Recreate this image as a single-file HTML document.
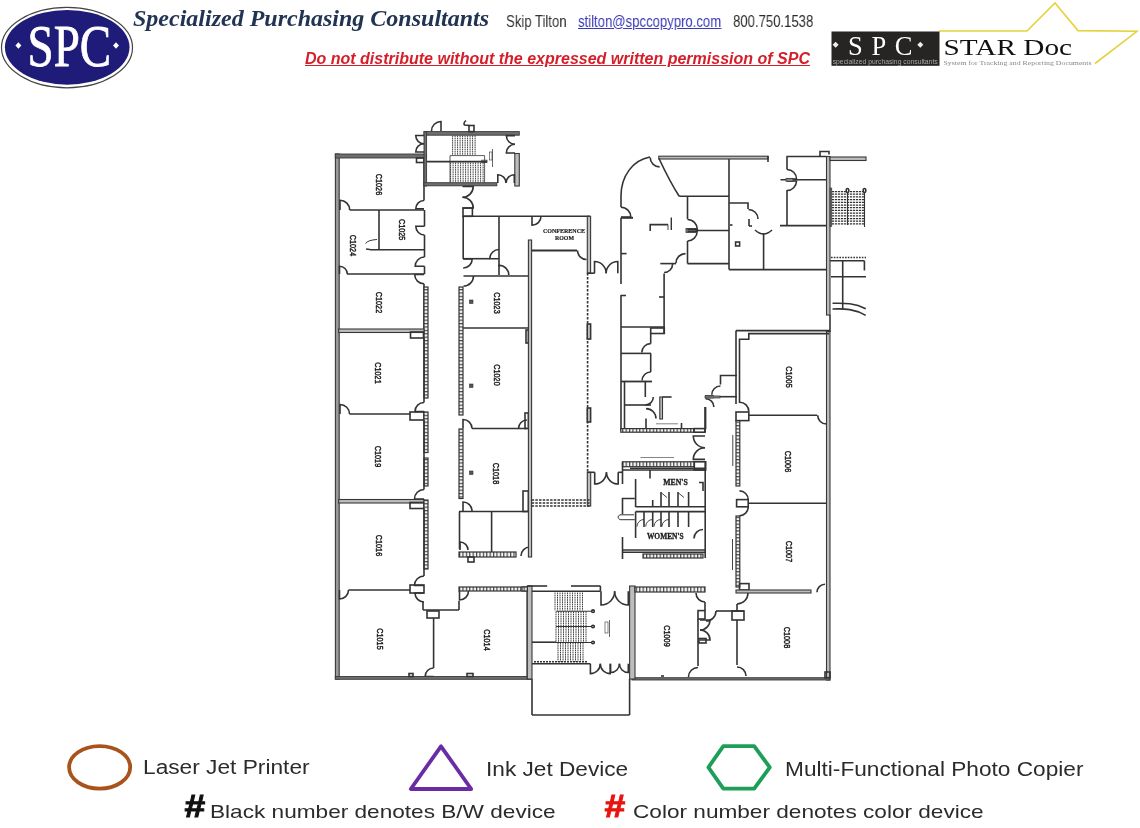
<!DOCTYPE html>
<html><head><meta charset="utf-8">
<style>
html,body{margin:0;padding:0;background:#fff;}
body{width:1140px;height:828px;position:relative;overflow:hidden;font-family:"Liberation Sans",sans-serif;}
.a{position:absolute;white-space:nowrap;line-height:1;will-change:transform;}
#title{left:133px;top:6px;font-family:"Liberation Serif",serif;font-weight:bold;font-style:italic;font-size:24px;color:#223453;}
#skip{left:506px;top:13.8px;font-size:16px;color:#333;transform:scaleX(0.82);transform-origin:0 0;}
#mail{left:578px;top:13.8px;font-size:16px;color:#3a3ab8;text-decoration:underline;transform:scaleX(0.82);transform-origin:0 0;}
#tel{left:733px;top:13.8px;font-size:16px;color:#2a2a2a;transform:scaleX(0.82);transform-origin:0 0;}
#warn{left:305px;top:51px;font-size:16px;font-weight:bold;font-style:italic;color:#d41f2a;text-decoration:underline;}
.lg{font-size:19.5px;color:#2b2b2b;transform:scaleX(1.14);transform-origin:0 0;}
</style></head><body>
<svg class="a" style="left:0;top:0" width="1140" height="828" viewBox="0 0 1140 828">
 <defs>
  <pattern id="hv" width="8" height="3.4" patternUnits="userSpaceOnUse"><rect width="8" height="3.4" fill="#f4f4f4"/><line x1="0" y1="0.6" x2="8" y2="0.6" stroke="#3a3a3a" stroke-width="1.1"/></pattern>
  <pattern id="hh" width="3.4" height="8" patternUnits="userSpaceOnUse"><rect width="3.4" height="8" fill="#f4f4f4"/><line x1="0.6" y1="0" x2="0.6" y2="8" stroke="#3a3a3a" stroke-width="1.1"/></pattern>
 </defs>
 <!-- SPC logo -->
 <ellipse cx="67" cy="47.6" rx="65.5" ry="40.2" fill="#fff" stroke="#444" stroke-width="1.2"/>
 <ellipse cx="67.2" cy="47.3" rx="62.3" ry="37.4" fill="#1f1b79"/>
 <text x="69.3" y="66" text-anchor="middle" font-family="Liberation Serif" font-size="60" fill="#fff" stroke="#fff" stroke-width="0.8" textLength="83.5" lengthAdjust="spacingAndGlyphs">SPC</text>
 <path d="M18.4,42.3 L21.4,45.5 L18.4,48.7 L15.4,45.5Z M116,42.3 L119,45.5 L116,48.7 L113,45.5Z" fill="#fff"/>
 <!-- STAR Doc logo -->
 <polyline points="939,31 1027,31 1055,3 1078,30.6 1137,31.3 1095,63.5" fill="none" stroke="#e6d23c" stroke-width="1.6"/>
 <rect x="831.5" y="31.5" width="108" height="34.3" fill="#272523"/>
 <text x="880.3" y="54.7" text-anchor="middle" font-family="Liberation Serif" font-size="26.5" fill="#fff" textLength="64.5" lengthAdjust="spacing">SPC</text>
 <path d="M835.6,41.8 L838.6,44.8 L835.6,47.8 L832.6,44.8Z M920.3,41.8 L923.3,44.8 L920.3,47.8 L917.3,44.8Z" fill="#eee"/>
 <text x="885.2" y="63.8" text-anchor="middle" font-family="Liberation Sans" font-size="6.6" fill="#a8a8a8" textLength="105" lengthAdjust="spacingAndGlyphs">specialized purchasing consultants</text>
 <text x="943.5" y="55.3" font-family="Liberation Serif" font-size="22.5" fill="#111" textLength="128.5" lengthAdjust="spacingAndGlyphs">STAR Doc</text>
 <text x="943.5" y="65" font-family="Liberation Serif" font-size="6" fill="#888" textLength="148" lengthAdjust="spacingAndGlyphs">System for Tracking and Reporting Documents</text>
 <!-- legend shapes -->
 <ellipse cx="99.65" cy="767.35" rx="30.55" ry="21.3" fill="none" stroke="#a8531c" stroke-width="3.8"/>
 <polygon points="441,746.3 410.8,789 471.2,789" fill="none" stroke="#6a2ca4" stroke-width="3.8" stroke-linejoin="round"/>
 <polygon points="708.4,767.35 723.3,746.1 754.2,746.1 769.8,767.35 754.2,788.6 723.3,788.6" fill="none" stroke="#1d9f57" stroke-width="3.8" stroke-linejoin="round"/>
 <!-- floor plan -->
 <g fill="none" stroke="#333" stroke-width="1.6" font-family="Liberation Sans">
<rect x="335.4" y="154" width="3.8" height="525" fill="#9a9a9a" stroke="#383838" stroke-width="1.1"/>
<rect x="335.3" y="154" width="91.2" height="4" fill="#6e6e6e" stroke="#3a3a3a" stroke-width="0.9"/>
<rect x="416.5" y="158" width="7.5" height="4.5"/>
<line x1="424" y1="157" x2="424" y2="200.5"/>
<path d="M424,208.7 L415.8,208.7 A8.2,8.2 0 0 1 424,200.5"/>
<rect x="424" y="131.6" width="95.3" height="3.6" fill="#6e6e6e" stroke="#3a3a3a" stroke-width="0.9"/>
<rect x="424" y="131.6" width="2.6" height="54.4" fill="#6e6e6e" stroke="#3a3a3a" stroke-width="0.9"/>
<rect x="424" y="182.7" width="72.8" height="3.1" fill="#6e6e6e" stroke="#3a3a3a" stroke-width="0.9"/>
<rect x="514.8" y="153.5" width="4.5" height="32.5" fill="#bdbdbd" stroke="#383838" stroke-width="1.1"/>
<line x1="426.6" y1="161.6" x2="487" y2="161.6"/>
<rect x="481.7" y="160.2" width="5.3" height="2.4" stroke-width="0.8"/>
<line x1="452.6" y1="135.5" x2="452.6" y2="155.5" stroke-width="0.95" stroke="#3a3a3a" stroke-dasharray="1.6,0.6"/>
<line x1="455.1" y1="135.5" x2="455.1" y2="155.5" stroke-width="0.95" stroke="#3a3a3a" stroke-dasharray="1.6,0.6"/>
<line x1="457.6" y1="135.5" x2="457.6" y2="155.5" stroke-width="0.95" stroke="#3a3a3a" stroke-dasharray="1.6,0.6"/>
<line x1="460.1" y1="135.5" x2="460.1" y2="155.5" stroke-width="0.95" stroke="#3a3a3a" stroke-dasharray="1.6,0.6"/>
<line x1="462.6" y1="135.5" x2="462.6" y2="155.5" stroke-width="0.95" stroke="#3a3a3a" stroke-dasharray="1.6,0.6"/>
<line x1="465.1" y1="135.5" x2="465.1" y2="155.5" stroke-width="0.95" stroke="#3a3a3a" stroke-dasharray="1.6,0.6"/>
<line x1="467.6" y1="135.5" x2="467.6" y2="155.5" stroke-width="0.95" stroke="#3a3a3a" stroke-dasharray="1.6,0.6"/>
<line x1="470.1" y1="135.5" x2="470.1" y2="155.5" stroke-width="0.95" stroke="#3a3a3a" stroke-dasharray="1.6,0.6"/>
<line x1="472.6" y1="135.5" x2="472.6" y2="155.5" stroke-width="0.95" stroke="#3a3a3a" stroke-dasharray="1.6,0.6"/>
<line x1="475.1" y1="135.5" x2="475.1" y2="155.5" stroke-width="0.95" stroke="#3a3a3a" stroke-dasharray="1.6,0.6"/>
<line x1="450.6" y1="162.5" x2="450.6" y2="182.5" stroke-width="0.95" stroke="#3a3a3a" stroke-dasharray="1.6,0.6"/>
<line x1="453.1" y1="162.5" x2="453.1" y2="182.5" stroke-width="0.95" stroke="#3a3a3a" stroke-dasharray="1.6,0.6"/>
<line x1="455.6" y1="162.5" x2="455.6" y2="182.5" stroke-width="0.95" stroke="#3a3a3a" stroke-dasharray="1.6,0.6"/>
<line x1="458.1" y1="162.5" x2="458.1" y2="182.5" stroke-width="0.95" stroke="#3a3a3a" stroke-dasharray="1.6,0.6"/>
<line x1="460.6" y1="162.5" x2="460.6" y2="182.5" stroke-width="0.95" stroke="#3a3a3a" stroke-dasharray="1.6,0.6"/>
<line x1="463.1" y1="162.5" x2="463.1" y2="182.5" stroke-width="0.95" stroke="#3a3a3a" stroke-dasharray="1.6,0.6"/>
<line x1="465.6" y1="162.5" x2="465.6" y2="182.5" stroke-width="0.95" stroke="#3a3a3a" stroke-dasharray="1.6,0.6"/>
<line x1="468.1" y1="162.5" x2="468.1" y2="182.5" stroke-width="0.95" stroke="#3a3a3a" stroke-dasharray="1.6,0.6"/>
<line x1="470.6" y1="162.5" x2="470.6" y2="182.5" stroke-width="0.95" stroke="#3a3a3a" stroke-dasharray="1.6,0.6"/>
<line x1="473.1" y1="162.5" x2="473.1" y2="182.5" stroke-width="0.95" stroke="#3a3a3a" stroke-dasharray="1.6,0.6"/>
<line x1="475.6" y1="162.5" x2="475.6" y2="182.5" stroke-width="0.95" stroke="#3a3a3a" stroke-dasharray="1.6,0.6"/>
<line x1="478.1" y1="162.5" x2="478.1" y2="182.5" stroke-width="0.95" stroke="#3a3a3a" stroke-dasharray="1.6,0.6"/>
<line x1="480.6" y1="162.5" x2="480.6" y2="182.5" stroke-width="0.95" stroke="#3a3a3a" stroke-dasharray="1.6,0.6"/>
<line x1="483.1" y1="162.5" x2="483.1" y2="182.5" stroke-width="0.95" stroke="#3a3a3a" stroke-dasharray="1.6,0.6"/>
<path d="M450,182.5 L450,155.6 L484.6,155.6 L484.6,182.5" stroke-width="0.8"/>
<path d="M424,135.5 L415.75,135.5 A8.2,8.2 0 0 0 424,143.75"/>
<path d="M424,152 L415.75,152 A8.2,8.2 0 0 1 424,143.75"/>
<path d="M441,131 L441,121.5 A9.5,9.5 0 0 0 431.5,131"/>
<rect x="469" y="125.5" width="5" height="6.1"/>
<path d="M466,120.5 Q463,123 464.5,125 L469,125.5"/>
<path d="M515,135.6 L506.29999999999995,135.6 A8.7,8.7 0 0 0 515,144.3"/>
<path d="M515,153 L506.3,153 A8.7,8.7 0 0 1 515,144.3"/>
<path d="M497.8,183 L497.8,174.75000000000006 A8.2,8.2 0 0 1 506.04999999999995,183"/>
<path d="M514.3,183 L514.3,174.75 A8.2,8.2 0 0 0 506.04999999999995,183"/>
<line x1="492.5" y1="149" x2="492.5" y2="167" stroke-width="0.9" stroke="#555"/>
<rect x="489.5" y="152" width="2.5" height="8" stroke-width="0.6"/>
<path d="M462.5,186.5 L473.25,186.5 A10.8,10.8 0 0 1 462.5,197.25"/>
<path d="M462.5,208 L473.25,208 A10.8,10.8 0 0 0 462.5,197.25"/>
<line x1="349.7" y1="210" x2="424" y2="210"/>
<path d="M340,210 L340,200.3 A9.7,9.7 0 0 1 349.7,210"/>
<line x1="379" y1="210" x2="379" y2="249.8"/>
<line x1="370" y1="249.8" x2="424" y2="249.8"/>
<path d="M424.5,226.3 L415.8,226.3 A8.7,8.7 0 0 0 424.5,235"/>
<line x1="424.5" y1="210" x2="424.5" y2="226.3"/>
<line x1="424.5" y1="235" x2="424.5" y2="257"/>
<line x1="424.5" y1="266.3" x2="424.5" y2="274.3"/>
<path d="M365.5,243.5 Q368,240 377,239.5" stroke-width="1"/>
<line x1="366" y1="249" x2="370" y2="249.5"/>
<path d="M424.5,266.3 L415.2,266.3 A9.3,9.3 0 0 1 424.5,257"/>
<line x1="347" y1="274" x2="424" y2="274"/>
<path d="M339.5,274 L339.5,266.2 A7.8,7.8 0 0 1 347.3,274"/>
<path d="M424,274.5 L414.7,274.5 A9.3,9.3 0 0 0 424,283.8"/>
<line x1="424" y1="283.8" x2="424" y2="329"/>
<rect x="424" y="287" width="4" height="111" fill="url(#hv)" stroke="#333" stroke-width="1.2"/>
<rect x="338.7" y="329" width="85.3" height="3.5" fill="#bdbdbd" stroke="#383838" stroke-width="1.1"/>
<rect x="410.5" y="332" width="13.0" height="6"/>
<line x1="424" y1="338" x2="424" y2="402.5"/>
<path d="M424,411.5 L415.0,411.5 A9.0,9.0 0 0 1 424,402.5"/>
<line x1="349.5" y1="414" x2="410.5" y2="414"/>
<path d="M340,414 L340,404.5 A9.5,9.5 0 0 1 349.5,414"/>
<rect x="410" y="412" width="14" height="8"/>
<rect x="424" y="412" width="4" height="40.5" fill="url(#hv)" stroke="#333" stroke-width="1.2"/>
<rect x="424" y="458" width="4" height="28" fill="url(#hv)" stroke="#333" stroke-width="1.2"/>
<line x1="424" y1="420" x2="424" y2="489.5"/>
<path d="M424,499 L414.5,499 A9.5,9.5 0 0 1 424,489.5"/>
<rect x="338.7" y="499.5" width="85.3" height="3.5" fill="#bdbdbd" stroke="#383838" stroke-width="1.1"/>
<rect x="410" y="502.5" width="14" height="6.0"/>
<rect x="424" y="500" width="4" height="69" fill="url(#hv)" stroke="#333" stroke-width="1.2"/>
<line x1="424" y1="508.5" x2="424" y2="576"/>
<path d="M424,585.5 L414.5,585.5 A9.5,9.5 0 0 1 424,576"/>
<rect x="410" y="585" width="14" height="8"/>
<path d="M424,593 L415,593 A9.0,9.0 0 0 0 424,602"/>
<line x1="348.5" y1="590" x2="410" y2="590"/>
<path d="M339.5,590 L339.5,599.0 A9.0,9.0 0 0 0 348.5,590"/>
<line x1="423" y1="602" x2="423" y2="610"/>
<line x1="423" y1="610" x2="459" y2="610"/>
<line x1="459" y1="601" x2="459" y2="610"/>
<rect x="427" y="611" width="12" height="7"/>
<line x1="433.6" y1="618" x2="433.6" y2="668"/>
<path d="M433.6,676.5 L425.1,676.5 A8.5,8.5 0 0 1 433.6,668"/>
<rect x="335.3" y="676.5" width="195.7" height="2.8" fill="#6e6e6e" stroke="#3a3a3a" stroke-width="0.9"/>
<rect x="409" y="673.5" width="4" height="3.0"/>
<rect x="467" y="673.5" width="6" height="3.0"/>
<rect x="459" y="587" width="69" height="4" fill="url(#hh)" stroke="#333" stroke-width="1.2"/>
<path d="M459.5,591 L459.5,600.0 A9.0,9.0 0 0 0 468.5,591"/>
<rect x="527" y="589" width="3.5" height="88" fill="#bdbdbd" stroke="#383838" stroke-width="1.1"/>
<text transform="translate(379.5,184.5) rotate(90)" text-anchor="middle" dy="3.35" font-size="9.3" textLength="21.3" lengthAdjust="spacingAndGlyphs" fill="#1a1a1a" stroke="#1a1a1a" stroke-width="0.45">C1026</text>
<text transform="translate(402.8,229.6) rotate(90)" text-anchor="middle" dy="3.35" font-size="9.3" textLength="21.3" lengthAdjust="spacingAndGlyphs" fill="#1a1a1a" stroke="#1a1a1a" stroke-width="0.45">C1025</text>
<text transform="translate(353.4,245.5) rotate(90)" text-anchor="middle" dy="3.35" font-size="9.3" textLength="21.3" lengthAdjust="spacingAndGlyphs" fill="#1a1a1a" stroke="#1a1a1a" stroke-width="0.45">C1024</text>
<text transform="translate(379.5,302.5) rotate(90)" text-anchor="middle" dy="3.35" font-size="9.3" textLength="21.3" lengthAdjust="spacingAndGlyphs" fill="#1a1a1a" stroke="#1a1a1a" stroke-width="0.45">C1022</text>
<text transform="translate(378.5,373) rotate(90)" text-anchor="middle" dy="3.35" font-size="9.3" textLength="21.3" lengthAdjust="spacingAndGlyphs" fill="#1a1a1a" stroke="#1a1a1a" stroke-width="0.45">C1021</text>
<text transform="translate(378.5,456.5) rotate(90)" text-anchor="middle" dy="3.35" font-size="9.3" textLength="21.3" lengthAdjust="spacingAndGlyphs" fill="#1a1a1a" stroke="#1a1a1a" stroke-width="0.45">C1019</text>
<text transform="translate(379.5,545.5) rotate(90)" text-anchor="middle" dy="3.35" font-size="9.3" textLength="21.3" lengthAdjust="spacingAndGlyphs" fill="#1a1a1a" stroke="#1a1a1a" stroke-width="0.45">C1016</text>
<text transform="translate(380.5,639) rotate(90)" text-anchor="middle" dy="3.35" font-size="9.3" textLength="21.3" lengthAdjust="spacingAndGlyphs" fill="#1a1a1a" stroke="#1a1a1a" stroke-width="0.45">C1015</text>
<text transform="translate(487.5,640) rotate(90)" text-anchor="middle" dy="3.35" font-size="9.3" textLength="21.3" lengthAdjust="spacingAndGlyphs" fill="#1a1a1a" stroke="#1a1a1a" stroke-width="0.45">C1014</text>
<line x1="463.2" y1="216" x2="463.2" y2="259"/>
<rect x="463" y="208" width="9.4" height="8.3"/>
<line x1="463" y1="216.3" x2="532" y2="216.3"/>
<line x1="499" y1="216.3" x2="499" y2="266.8"/>
<line x1="463" y1="258.7" x2="489.5" y2="258.7"/>
<path d="M499,258.7 L489.8,258.7 A9.2,9.2 0 0 1 499,249.5"/>
<path d="M499,275 L499,265.2 A9.8,9.8 0 0 1 508.8,275"/>
<path d="M463.2,259 L472.2,259 A9.0,9.0 0 0 1 463.2,268"/>
<path d="M463.5,276 L473.5,276 A10.0,10.0 0 0 1 463.5,286"/>
<rect x="459" y="287" width="4" height="128" fill="url(#hv)" stroke="#333" stroke-width="1.2"/>
<line x1="474" y1="276" x2="528.4" y2="276"/>
<line x1="463" y1="328" x2="528.4" y2="328"/>
<rect x="526" y="330" width="2.4" height="13"/>
<line x1="472" y1="428.5" x2="518" y2="428.5"/>
<path d="M463,428.5 L463,419.5 A9.0,9.0 0 0 1 472,428.5"/>
<path d="M527,428.5 L518.5,428.5 A8.5,8.5 0 0 1 527,420"/>
<rect x="525" y="413" width="3.4" height="15.5"/>
<rect x="459" y="429" width="4" height="69.5" fill="url(#hv)" stroke="#333" stroke-width="1.2"/>
<path d="M463,511 L463,502 A9.0,9.0 0 0 1 472,511"/>
<rect x="523" y="491" width="5.4" height="20.5"/>
<line x1="459" y1="511.5" x2="528.4" y2="511.5"/>
<line x1="459.5" y1="511.5" x2="459.5" y2="549"/>
<path d="M460,550 L460,542 A8.0,8.0 0 0 1 468,550"/>
<line x1="491.6" y1="511.5" x2="491.6" y2="553"/>
<path d="M530,556 L530,547 A9.0,9.0 0 0 0 521,556"/>
<rect x="459" y="552" width="57" height="5" fill="url(#hh)" stroke="#333" stroke-width="1.2"/>
<rect x="468" y="557" width="6" height="5"/>
<text transform="translate(497.5,303) rotate(90)" text-anchor="middle" dy="3.35" font-size="9.3" textLength="21.3" lengthAdjust="spacingAndGlyphs" fill="#1a1a1a" stroke="#1a1a1a" stroke-width="0.45">C1023</text>
<text transform="translate(497.5,375) rotate(90)" text-anchor="middle" dy="3.35" font-size="9.3" textLength="21.3" lengthAdjust="spacingAndGlyphs" fill="#1a1a1a" stroke="#1a1a1a" stroke-width="0.45">C1020</text>
<text transform="translate(496,473.5) rotate(90)" text-anchor="middle" dy="3.35" font-size="9.3" textLength="21.3" lengthAdjust="spacingAndGlyphs" fill="#1a1a1a" stroke="#1a1a1a" stroke-width="0.45">C1018</text>
<rect x="469.5" y="300" width="3.5" height="3.5" fill="#555" stroke-width="0.6"/>
<rect x="469.5" y="384" width="3.5" height="3.5" fill="#555" stroke-width="0.6"/>
<rect x="469.5" y="471" width="3.5" height="3.5" fill="#555" stroke-width="0.6"/>
<line x1="532" y1="216.3" x2="590" y2="216.3"/>
<path d="M532,216.3 L532,225.3 A9.0,9.0 0 0 0 541,216.3"/>
<rect x="587.3" y="216.3" width="3.3" height="56.9" fill="#bdbdbd" stroke="#383838" stroke-width="1.1"/>
<line x1="587.6" y1="273" x2="587.6" y2="472.3" stroke-dasharray="2.6,1.4"/>
<rect x="587.3" y="324" width="3.3" height="15" fill="#ccc"/>
<rect x="587.3" y="408" width="3.3" height="14" fill="#ccc"/>
<rect x="587.3" y="472.3" width="3.4" height="33.7" fill="#bdbdbd" stroke="#383838" stroke-width="1.1"/>
<line x1="532" y1="250.5" x2="577" y2="250.5" stroke-width="1.9"/>
<path d="M577.5,250.5 A9.0,9.0 0 0 0 586.5,259.5"/>
<rect x="528.4" y="240" width="3.2" height="317" fill="#bdbdbd" stroke="#383838" stroke-width="1.1"/>
<line x1="531.6" y1="500" x2="590" y2="500" stroke-dasharray="2.5,1.2"/>
<line x1="531.6" y1="503" x2="590" y2="503" stroke-dasharray="2.5,1.2"/>
<line x1="531.6" y1="506" x2="590" y2="506" stroke-dasharray="2.5,1.2"/>
<text x="564" y="233.3" text-anchor="middle" font-family="Liberation Serif" font-size="6.4" font-weight="bold" textLength="42" lengthAdjust="spacingAndGlyphs" fill="#222" stroke="#222" stroke-width="0.2">CONFERENCE</text>
<text x="564.5" y="240.3" text-anchor="middle" font-family="Liberation Serif" font-size="6.4" font-weight="bold" textLength="19" lengthAdjust="spacingAndGlyphs" fill="#222" stroke="#222" stroke-width="0.2">ROOM</text>
<polyline points="587.3,273.2 594.5,273.2"/>
<path d="M594.5,273.2 L594.5,261.55 A11.6,11.6 0 0 1 606.15,273.2"/>
<path d="M617.8,273.2 L617.8,261.55 A11.6,11.6 0 0 0 606.15,273.2"/>
<polyline points="587.3,472.3 594.7,472.3"/>
<path d="M594.7,472.3 L594.7,484.05 A11.8,11.8 0 0 0 606.45,472.3"/>
<path d="M618.2,472.3 L618.2,484.05 A11.8,11.8 0 0 1 606.45,472.3"/>
<polyline points="618.2,472.3 622.5,472.3"/>
<line x1="621" y1="217.8" x2="621" y2="284"/>
<line x1="621" y1="295" x2="621" y2="431"/>
<line x1="621" y1="295.5" x2="626" y2="295.5"/>
<line x1="621" y1="253.6" x2="626.6" y2="253.6"/>
<line x1="621" y1="217.8" x2="633" y2="217.8" stroke-width="2"/>
<path d="M621,217 L630.8,217 A9.8,9.8 0 0 0 621,207.2"/>
<path d="M621,207.2 L621,196 C621,176 633,160 650,157"/>
<path d="M659.6,166.89999999999998 A9.4,9.4 0 0 1 650.2,157.5"/>
<rect x="658.8" y="156.2" width="109.2" height="2.8" fill="#bdbdbd" stroke="#383838" stroke-width="1.1"/>
<line x1="768" y1="156" x2="768" y2="162"/>
<path d="M659,158.5 Q670,182 679.2,196.3"/>
<line x1="679.2" y1="196.3" x2="729" y2="196.3"/>
<line x1="687.5" y1="196.3" x2="687.5" y2="219"/>
<line x1="687.5" y1="241" x2="687.5" y2="263.6"/>
<line x1="687.5" y1="230.5" x2="729" y2="230.5"/>
<rect x="686" y="228.5" width="10" height="4.0" fill="#888" stroke-width="0.8"/>
<path d="M687.5,229.3 L697.3,229.3 A9.8,9.8 0 0 0 687.5,219.5"/>
<path d="M687.5,231.3 L697.2,231.3 A9.7,9.7 0 0 1 687.5,241"/>
<line x1="660.3" y1="263.6" x2="676" y2="263.6" stroke-width="1.6"/>
<line x1="687.5" y1="263.6" x2="729" y2="263.6"/>
<path d="M675.9,263.2 A9.6,9.6 0 0 1 685.5,253.6"/>
<path d="M664.1,272.5 A8.5,8.5 0 0 0 672.6,264"/>
<line x1="664.1" y1="273.5" x2="664.1" y2="333.5"/>
<polyline points="650.2,231 650.2,224.6 668,224.6"/>
<line x1="671.3" y1="217.5" x2="671.3" y2="230" stroke-width="1.4"/>
<line x1="668" y1="224.6" x2="668" y2="230" stroke-width="0.9"/>
<line x1="729" y1="159" x2="729" y2="269.6"/>
<polyline points="729,203 748,203 748,209"/>
<path d="M758.0,219 A9.5,9.5 0 0 0 748.5,209.5"/>
<line x1="749" y1="219" x2="749" y2="226"/>
<line x1="749" y1="226" x2="752" y2="226"/>
<line x1="730" y1="225" x2="732.5" y2="225"/>
<path d="M755,230 Q763.6,238 772,230"/>
<line x1="763.6" y1="233" x2="763.6" y2="269.6"/>
<rect x="735.6" y="242" width="4.0" height="4"/>
<line x1="729" y1="269.6" x2="826.5" y2="269.6"/>
<line x1="786.5" y1="156.5" x2="826.5" y2="156.5"/>
<line x1="787" y1="156.5" x2="787" y2="169.5"/>
<line x1="787" y1="190" x2="787" y2="226"/>
<path d="M787,179 L796.5,179 A9.5,9.5 0 0 0 787,169.5"/>
<path d="M787,181 L796.5,181 A9.5,9.5 0 0 1 787,190.5"/>
<line x1="780.5" y1="179.8" x2="826.5" y2="179.8"/>
<rect x="786" y="178.3" width="7" height="3.0" fill="#888" stroke-width="0.7"/>
<line x1="780" y1="225.6" x2="826.5" y2="225.6"/>
<polyline points="820,156.5 820,151.5 829,151.5 829,154.5"/>
<rect x="826.5" y="156.5" width="3.5" height="158.5" fill="#bdbdbd" stroke="#383838" stroke-width="1.1"/>
<line x1="830" y1="315" x2="830" y2="332"/>
<rect x="826.5" y="331.5" width="3.5" height="348.5" fill="#bdbdbd" stroke="#383838" stroke-width="1.1"/>
<rect x="830" y="157" width="36" height="3.5" fill="#bdbdbd" stroke="#383838" stroke-width="1.1"/>
<line x1="832" y1="191.5" x2="864" y2="191.5" stroke-width="1.25" stroke="#333" stroke-dasharray="2.2,0.8"/>
<line x1="832" y1="194.2" x2="864" y2="194.2" stroke-width="1.25" stroke="#333" stroke-dasharray="2.2,0.8"/>
<line x1="832" y1="196.9" x2="864" y2="196.9" stroke-width="1.25" stroke="#333" stroke-dasharray="2.2,0.8"/>
<line x1="832" y1="199.6" x2="864" y2="199.6" stroke-width="1.25" stroke="#333" stroke-dasharray="2.2,0.8"/>
<line x1="832" y1="202.3" x2="864" y2="202.3" stroke-width="1.25" stroke="#333" stroke-dasharray="2.2,0.8"/>
<line x1="832" y1="205.0" x2="864" y2="205.0" stroke-width="1.25" stroke="#333" stroke-dasharray="2.2,0.8"/>
<line x1="832" y1="207.7" x2="864" y2="207.7" stroke-width="1.25" stroke="#333" stroke-dasharray="2.2,0.8"/>
<line x1="832" y1="210.4" x2="864" y2="210.4" stroke-width="1.25" stroke="#333" stroke-dasharray="2.2,0.8"/>
<line x1="832" y1="213.1" x2="864" y2="213.1" stroke-width="1.25" stroke="#333" stroke-dasharray="2.2,0.8"/>
<line x1="832" y1="215.8" x2="864" y2="215.8" stroke-width="1.25" stroke="#333" stroke-dasharray="2.2,0.8"/>
<line x1="832" y1="218.5" x2="864" y2="218.5" stroke-width="1.25" stroke="#333" stroke-dasharray="2.2,0.8"/>
<line x1="832" y1="221.2" x2="864" y2="221.2" stroke-width="1.25" stroke="#333" stroke-dasharray="2.2,0.8"/>
<line x1="832" y1="223.9" x2="864" y2="223.9" stroke-width="1.25" stroke="#333" stroke-dasharray="2.2,0.8"/>
<line x1="847.5" y1="190.5" x2="847.5" y2="225" stroke-width="1.1"/>
<line x1="864.5" y1="190.5" x2="864.5" y2="227" stroke-width="1.1"/>
<ellipse cx="847.5" cy="190.5" rx="1.3" ry="2" fill="#fff"/><ellipse cx="864.5" cy="190.5" rx="1.3" ry="2" fill="#fff"/>
<rect x="830" y="188" width="1.8" height="38.5" fill="#666" stroke-width="0.6"/>
<line x1="831" y1="257.5" x2="866" y2="257.5" stroke-dasharray="1.6,1.2"/>
<line x1="830" y1="260.7" x2="864.4" y2="260.7"/>
<line x1="864.4" y1="260.7" x2="864.4" y2="270.5"/>
<line x1="842.7" y1="260.7" x2="842.7" y2="309"/>
<line x1="831" y1="276.8" x2="866" y2="276.8"/>
<path d="M832.5,303.3 C845,303 855,303 865.7,308.8"/>
<path d="M832.5,309 C845,308.5 855,309 865.7,315.4"/>
<line x1="736" y1="330.6" x2="830" y2="330.6"/>
<polyline points="739.5,403 739.5,339.3 748.8,339.3 748.8,333.6 829,333.6"/>
<line x1="736" y1="330.6" x2="736" y2="404"/>
<polyline points="737,375.5 720.5,375.5 720.5,384.6"/>
<path d="M711.8,394.7 A8.7,8.7 0 0 1 720.5,386"/>
<line x1="705.6" y1="396.7" x2="737" y2="396.7"/>
<rect x="705.6" y="395.5" width="8.0" height="2.5" fill="#888" stroke-width="0.7"/>
<path d="M713.9000000000001,407 A8.3,8.3 0 0 0 705.6,398.7"/>
<line x1="705.6" y1="407" x2="705.6" y2="429"/>
<path d="M739.5,402.20000000000005 A9.3,9.3 0 0 1 748.8,411.5"/>
<rect x="736" y="412" width="12.8" height="8.6"/>
<rect x="736" y="420.6" width="3.8" height="65.4" fill="url(#hv)" stroke="#333" stroke-width="1.2"/>
<line x1="732.8" y1="435" x2="732.8" y2="466" stroke-width="0.9"/>
<line x1="749" y1="415.3" x2="817" y2="415.3"/>
<path d="M817.7,415.3 A8.7,8.7 0 0 0 826.4,424"/>
<path d="M739.5,490.9 A8.7,8.7 0 0 1 748.2,499.6"/>
<rect x="736.6" y="499.6" width="11.6" height="7.2"/>
<line x1="748.2" y1="503.2" x2="826.4" y2="503.2"/>
<path d="M739.5,515.7 A8.7,8.7 0 0 0 748.2,507"/>
<rect x="736" y="516" width="3.8" height="71" fill="url(#hv)" stroke="#333" stroke-width="1.2"/>
<line x1="732.5" y1="539" x2="732.5" y2="570" stroke-width="0.9"/>
<rect x="739.5" y="583.6" width="9.5" height="6.4"/>
<rect x="736" y="590" width="75" height="3" fill="#bdbdbd" stroke="#383838" stroke-width="1.1"/>
<path d="M817.0,592.3 A8.0,8.0 0 0 1 825,584.3"/>
<text transform="translate(789.5,377) rotate(90)" text-anchor="middle" dy="3.35" font-size="9.3" textLength="21.3" lengthAdjust="spacingAndGlyphs" fill="#1a1a1a" stroke="#1a1a1a" stroke-width="0.45">C1005</text>
<text transform="translate(788.5,461.5) rotate(90)" text-anchor="middle" dy="3.35" font-size="9.3" textLength="21.3" lengthAdjust="spacingAndGlyphs" fill="#1a1a1a" stroke="#1a1a1a" stroke-width="0.45">C1006</text>
<text transform="translate(789.2,551.5) rotate(90)" text-anchor="middle" dy="3.35" font-size="9.3" textLength="21.3" lengthAdjust="spacingAndGlyphs" fill="#1a1a1a" stroke="#1a1a1a" stroke-width="0.45">C1007</text>
<text transform="translate(787.5,637.5) rotate(90)" text-anchor="middle" dy="3.35" font-size="9.3" textLength="21.3" lengthAdjust="spacingAndGlyphs" fill="#1a1a1a" stroke="#1a1a1a" stroke-width="0.45">C1008</text>
<path d="M696,593 A9.0,9.0 0 0 0 705,602"/>
<line x1="705" y1="602" x2="705" y2="610.6"/>
<rect x="698" y="610.6" width="7" height="8.4"/>
<line x1="716" y1="611" x2="744" y2="611"/>
<path d="M706,621 A10.0,10.0 0 0 0 716,611"/>
<rect x="732" y="611" width="12" height="9"/>
<path d="M748,593 A11.0,11.0 0 0 1 737,604"/>
<line x1="737" y1="604" x2="737" y2="611"/>
<line x1="737" y1="620" x2="737" y2="665"/>
<path d="M737,667 A9.0,9.0 0 0 1 746,676"/>
<line x1="698" y1="619" x2="698" y2="666"/>
<path d="M698,667.5 A9.5,9.5 0 0 0 688.5,677"/>
<path d="M700,620 L710.0,620 A10.0,10.0 0 0 1 700,630.0"/>
<path d="M700,640 L710.0,640 A10.0,10.0 0 0 0 700,630.0"/>
<rect x="699" y="638.5" width="7" height="4.5"/>
<rect x="632" y="677.7" width="198" height="2.3" fill="#6e6e6e" stroke="#3a3a3a" stroke-width="0.9"/>
<rect x="825" y="672" width="5" height="5.7"/>
<line x1="661" y1="676" x2="664" y2="676"/>
<line x1="659" y1="297" x2="664.3" y2="297"/>
<line x1="621" y1="327" x2="664.3" y2="327"/>
<rect x="650.7" y="328" width="13.6" height="5.5"/>
<line x1="650.7" y1="333.5" x2="650.7" y2="343.6"/>
<path d="M641.8000000000001,352.5 A8.9,8.9 0 0 1 650.7,343.6"/>
<line x1="621" y1="353.4" x2="651" y2="353.4"/>
<line x1="650.7" y1="353.4" x2="650.7" y2="372"/>
<path d="M642.1,380.6 A8.6,8.6 0 0 1 650.7,372"/>
<line x1="621" y1="381.5" x2="652" y2="381.5" stroke-width="1.8"/>
<line x1="624.5" y1="381.5" x2="624.5" y2="429"/>
<line x1="645.3" y1="381.5" x2="645.3" y2="397"/>
<path d="M653.3,397 A8.0,8.0 0 0 1 645.3,405"/>
<line x1="624.5" y1="405" x2="651" y2="405"/>
<path d="M646,408.6 A10.0,10.0 0 0 1 656,418.6"/>
<line x1="646" y1="418.6" x2="646" y2="429"/>
<rect x="659.8" y="397" width="2.7" height="22" fill="#bdbdbd" stroke="#383838" stroke-width="1.1"/>
<line x1="662.5" y1="397" x2="671.6" y2="397"/>
<line x1="656" y1="423.8" x2="678" y2="423.8" stroke-width="0.6"/>
<line x1="681.5" y1="423" x2="681.5" y2="429"/>
<rect x="705" y="396" width="15" height="2" fill="#888" stroke-width="0.7"/>
<rect x="620.8" y="428.6" width="73.2" height="3.6" fill="url(#hh)" stroke="#333" stroke-width="1.2"/>
<rect x="694" y="428.6" width="11" height="3.6"/>
<line x1="705" y1="407" x2="705" y2="432"/>
<path d="M705,436 L693.3,436 A11.7,11.7 0 0 0 705,447.7"/>
<path d="M705,459.4 L693.3,459.4 A11.7,11.7 0 0 1 705,447.7"/>
<rect x="622.5" y="461.8" width="71.8" height="4.9" fill="url(#hh)" stroke="#333" stroke-width="1.2"/>
<rect x="694.3" y="461.8" width="11.4" height="8.2"/>
<line x1="630" y1="468.3" x2="705.7" y2="468.3"/>
<line x1="622.5" y1="470" x2="705.7" y2="470"/>
<line x1="640.5" y1="457.5" x2="674" y2="457.5" stroke-width="0.6"/>
<line x1="622.5" y1="461.8" x2="622.5" y2="484"/>
<line x1="650" y1="470" x2="650" y2="478.5"/>
<line x1="635.6" y1="479" x2="635.6" y2="507"/>
<polyline points="634.8,498.5 622.5,498.5 622.5,514"/>
<path d="M634,514.8 L620,514.8 Q616,517 620,519.7 L634.8,519.7" stroke-width="1"/>
<line x1="661" y1="492" x2="661" y2="507"/>
<line x1="669" y1="492" x2="669" y2="507"/>
<line x1="678" y1="492" x2="678" y2="507"/>
<line x1="688.6" y1="492" x2="688.6" y2="507"/>
<line x1="652.7" y1="500" x2="652.7" y2="507"/>
<line x1="661.5" y1="493" x2="667" y2="497.5" stroke-width="0.9"/>
<line x1="678.5" y1="493" x2="684" y2="497.5" stroke-width="0.9"/>
<line x1="635.6" y1="506.7" x2="705.7" y2="506.7"/>
<line x1="635.6" y1="511.6" x2="705.7" y2="511.6"/>
<line x1="635.6" y1="511.6" x2="635.6" y2="538"/>
<line x1="644" y1="512" x2="644" y2="527"/>
<line x1="652.7" y1="512" x2="652.7" y2="527"/>
<line x1="661" y1="512" x2="661" y2="527"/>
<line x1="669" y1="512" x2="669" y2="527"/>
<line x1="678" y1="512" x2="678" y2="527"/>
<line x1="688.6" y1="512" x2="688.6" y2="527"/>
<path d="M637,526.5 A7,7 0 0 1 644,519.5" stroke-width="0.9"/>
<path d="M645.7,526.5 A7,7 0 0 1 652.7,519.5" stroke-width="0.9"/>
<path d="M654,526.5 A7,7 0 0 1 661,519.5" stroke-width="0.9"/>
<path d="M662,526.5 A7,7 0 0 1 669,519.5" stroke-width="0.9"/>
<text x="675.5" y="484.6" text-anchor="middle" font-family="Liberation Serif" font-size="7.6" font-weight="bold" textLength="24.5" lengthAdjust="spacingAndGlyphs" fill="#1a1a1a" stroke="#1a1a1a" stroke-width="0.3">MEN'S</text>
<text x="665.3" y="539.4" text-anchor="middle" font-family="Liberation Serif" font-size="7.6" font-weight="bold" textLength="36.7" lengthAdjust="spacingAndGlyphs" fill="#1a1a1a" stroke="#1a1a1a" stroke-width="0.3">WOMEN'S</text>
<line x1="622.5" y1="550" x2="705.7" y2="550"/>
<line x1="622.5" y1="552.3" x2="705.7" y2="552.3"/>
<rect x="643" y="554" width="60" height="4" fill="url(#hh)" stroke="#333" stroke-width="1.2"/>
<line x1="622.5" y1="537" x2="622.5" y2="559"/>
<line x1="705.2" y1="462" x2="705.2" y2="558"/>
<path d="M694.0,538.5 A9.0,9.0 0 0 1 703,529.5"/>
<polyline points="699,482.5 703,482.5 703,491"/>
<rect x="527.3" y="586" width="4.7" height="93" fill="#bdbdbd" stroke="#383838" stroke-width="1.1"/>
<rect x="629.6" y="586" width="5.4" height="93" fill="#bdbdbd" stroke="#383838" stroke-width="1.1"/>
<line x1="527.3" y1="586" x2="547.2" y2="586"/>
<line x1="571" y1="586" x2="600.4" y2="586"/>
<line x1="532" y1="591.3" x2="600.4" y2="591.3"/>
<rect x="635" y="587" width="70" height="5" fill="url(#hh)" stroke="#333" stroke-width="1.2"/>
<rect x="522" y="587" width="5.3" height="4" fill="url(#hh)" stroke="#333" stroke-width="1.2"/>
<polyline points="600.4,586 600.4,591.3"/>
<path d="M601,591.3 L601,604.9499999999999 A13.6,13.6 0 0 0 614.65,591.3"/>
<path d="M628.3,591.3 L628.3,604.9499999999999 A13.6,13.6 0 0 1 614.65,591.3"/>
<line x1="555" y1="592.6" x2="555" y2="610.6" stroke-width="0.95" stroke="#3a3a3a" stroke-dasharray="1.6,0.6"/>
<line x1="557.5" y1="592.6" x2="557.5" y2="610.6" stroke-width="0.95" stroke="#3a3a3a" stroke-dasharray="1.6,0.6"/>
<line x1="560.0" y1="592.6" x2="560.0" y2="610.6" stroke-width="0.95" stroke="#3a3a3a" stroke-dasharray="1.6,0.6"/>
<line x1="562.5" y1="592.6" x2="562.5" y2="610.6" stroke-width="0.95" stroke="#3a3a3a" stroke-dasharray="1.6,0.6"/>
<line x1="565.0" y1="592.6" x2="565.0" y2="610.6" stroke-width="0.95" stroke="#3a3a3a" stroke-dasharray="1.6,0.6"/>
<line x1="567.5" y1="592.6" x2="567.5" y2="610.6" stroke-width="0.95" stroke="#3a3a3a" stroke-dasharray="1.6,0.6"/>
<line x1="570.0" y1="592.6" x2="570.0" y2="610.6" stroke-width="0.95" stroke="#3a3a3a" stroke-dasharray="1.6,0.6"/>
<line x1="572.5" y1="592.6" x2="572.5" y2="610.6" stroke-width="0.95" stroke="#3a3a3a" stroke-dasharray="1.6,0.6"/>
<line x1="575.0" y1="592.6" x2="575.0" y2="610.6" stroke-width="0.95" stroke="#3a3a3a" stroke-dasharray="1.6,0.6"/>
<line x1="577.5" y1="592.6" x2="577.5" y2="610.6" stroke-width="0.95" stroke="#3a3a3a" stroke-dasharray="1.6,0.6"/>
<line x1="580.0" y1="592.6" x2="580.0" y2="610.6" stroke-width="0.95" stroke="#3a3a3a" stroke-dasharray="1.6,0.6"/>
<line x1="582.5" y1="592.6" x2="582.5" y2="610.6" stroke-width="0.95" stroke="#3a3a3a" stroke-dasharray="1.6,0.6"/>
<line x1="556" y1="611.5" x2="556" y2="642" stroke-width="0.95" stroke="#3a3a3a" stroke-dasharray="1.6,0.6"/>
<line x1="558.5" y1="611.5" x2="558.5" y2="642" stroke-width="0.95" stroke="#3a3a3a" stroke-dasharray="1.6,0.6"/>
<line x1="561.0" y1="611.5" x2="561.0" y2="642" stroke-width="0.95" stroke="#3a3a3a" stroke-dasharray="1.6,0.6"/>
<line x1="563.5" y1="611.5" x2="563.5" y2="642" stroke-width="0.95" stroke="#3a3a3a" stroke-dasharray="1.6,0.6"/>
<line x1="566.0" y1="611.5" x2="566.0" y2="642" stroke-width="0.95" stroke="#3a3a3a" stroke-dasharray="1.6,0.6"/>
<line x1="568.5" y1="611.5" x2="568.5" y2="642" stroke-width="0.95" stroke="#3a3a3a" stroke-dasharray="1.6,0.6"/>
<line x1="571.0" y1="611.5" x2="571.0" y2="642" stroke-width="0.95" stroke="#3a3a3a" stroke-dasharray="1.6,0.6"/>
<line x1="573.5" y1="611.5" x2="573.5" y2="642" stroke-width="0.95" stroke="#3a3a3a" stroke-dasharray="1.6,0.6"/>
<line x1="576.0" y1="611.5" x2="576.0" y2="642" stroke-width="0.95" stroke="#3a3a3a" stroke-dasharray="1.6,0.6"/>
<line x1="578.5" y1="611.5" x2="578.5" y2="642" stroke-width="0.95" stroke="#3a3a3a" stroke-dasharray="1.6,0.6"/>
<line x1="581.0" y1="611.5" x2="581.0" y2="642" stroke-width="0.95" stroke="#3a3a3a" stroke-dasharray="1.6,0.6"/>
<line x1="583.5" y1="611.5" x2="583.5" y2="642" stroke-width="0.95" stroke="#3a3a3a" stroke-dasharray="1.6,0.6"/>
<line x1="586.0" y1="611.5" x2="586.0" y2="642" stroke-width="0.95" stroke="#3a3a3a" stroke-dasharray="1.6,0.6"/>
<line x1="558" y1="643" x2="558" y2="661.7" stroke-width="0.95" stroke="#3a3a3a" stroke-dasharray="1.6,0.6"/>
<line x1="560.5" y1="643" x2="560.5" y2="661.7" stroke-width="0.95" stroke="#3a3a3a" stroke-dasharray="1.6,0.6"/>
<line x1="563.0" y1="643" x2="563.0" y2="661.7" stroke-width="0.95" stroke="#3a3a3a" stroke-dasharray="1.6,0.6"/>
<line x1="565.5" y1="643" x2="565.5" y2="661.7" stroke-width="0.95" stroke="#3a3a3a" stroke-dasharray="1.6,0.6"/>
<line x1="568.0" y1="643" x2="568.0" y2="661.7" stroke-width="0.95" stroke="#3a3a3a" stroke-dasharray="1.6,0.6"/>
<line x1="570.5" y1="643" x2="570.5" y2="661.7" stroke-width="0.95" stroke="#3a3a3a" stroke-dasharray="1.6,0.6"/>
<line x1="573.0" y1="643" x2="573.0" y2="661.7" stroke-width="0.95" stroke="#3a3a3a" stroke-dasharray="1.6,0.6"/>
<line x1="575.5" y1="643" x2="575.5" y2="661.7" stroke-width="0.95" stroke="#3a3a3a" stroke-dasharray="1.6,0.6"/>
<line x1="578.0" y1="643" x2="578.0" y2="661.7" stroke-width="0.95" stroke="#3a3a3a" stroke-dasharray="1.6,0.6"/>
<line x1="580.5" y1="643" x2="580.5" y2="661.7" stroke-width="0.95" stroke="#3a3a3a" stroke-dasharray="1.6,0.6"/>
<line x1="583.0" y1="643" x2="583.0" y2="661.7" stroke-width="0.95" stroke="#3a3a3a" stroke-dasharray="1.6,0.6"/>
<line x1="556" y1="611.2" x2="593" y2="611.2" stroke-width="1.1"/>
<circle cx="593" cy="611.2" r="1.3" fill="#fff"/>
<line x1="556" y1="626.5" x2="593" y2="626.5" stroke-width="1.1"/>
<circle cx="593" cy="626.5" r="1.3" fill="#fff"/>
<line x1="556" y1="642.5" x2="593" y2="642.5" stroke-width="1.1"/>
<circle cx="593" cy="642.5" r="1.3" fill="#fff"/>
<line x1="532" y1="642.2" x2="556" y2="642.2"/>
<line x1="534" y1="661.7" x2="588" y2="661.7" stroke-dasharray="2,1"/>
<line x1="532" y1="663.7" x2="590.4" y2="663.7"/>
<path d="M590.4,663.7 L590.4,673.6 A9.9,9.9 0 0 0 600.3,663.7"/>
<path d="M610.2,663.7 L610.2,673.6000000000001 A9.9,9.9 0 0 1 600.3,663.7"/>
<path d="M610.6,663.7 L610.6,672.5500000000001 A8.9,8.9 0 0 0 619.45,663.7"/>
<path d="M628.3,663.7 L628.3,672.55 A8.8,8.8 0 0 1 619.45,663.7"/>
<line x1="532" y1="679" x2="532" y2="715"/>
<line x1="629.6" y1="679" x2="629.6" y2="715"/>
<line x1="532" y1="715" x2="629.6" y2="715"/>
<line x1="609.5" y1="620" x2="609.5" y2="637" stroke-width="0.9" stroke="#555"/>
<rect x="605" y="622" width="3" height="11" stroke-width="0.6"/>
<text transform="translate(667.6,636) rotate(90)" text-anchor="middle" dy="3.35" font-size="9.3" textLength="21.3" lengthAdjust="spacingAndGlyphs" fill="#1a1a1a" stroke="#1a1a1a" stroke-width="0.45">C1009</text>
 </g>
</svg>
<div class="a" id="title">Specialized Purchasing Consultants</div>
<div class="a" id="skip">Skip Tilton</div>
<div class="a" id="mail">stilton@spccopypro.com</div>
<div class="a" id="tel">800.750.1538</div>
<div class="a" id="warn">Do not distribute without the expressed written permission of SPC</div>
<div class="a lg" style="left:143px;top:756.7px;font-size:20px;transform:scaleX(1.1355)">Laser Jet Printer</div>
<div class="a lg" style="left:486.2px;top:758.7px;font-size:20px;transform:scaleX(1.132)">Ink Jet Device</div>
<div class="a lg" style="left:784.6px;top:758.7px;font-size:20px;transform:scaleX(1.133)">Multi-Functional Photo Copier</div>
<div class="a lg" style="left:183.5px;top:791.3px;font-weight:bold;font-style:italic;font-size:31px;color:#111;transform:scaleX(1.2);-webkit-text-stroke:0.9px #111">#</div>
<div class="a lg" style="left:210.3px;top:801.6px;font-size:19px;transform:scaleX(1.19)">Black number denotes B/W device</div>
<div class="a lg" style="left:603.7px;top:791.3px;font-weight:bold;font-style:italic;font-size:31px;color:#e8140f;transform:scaleX(1.2);-webkit-text-stroke:0.9px #e8140f">#</div>
<div class="a lg" style="left:633.3px;top:801.6px;font-size:19px;transform:scaleX(1.19)">Color number denotes color device</div>
</body></html>
